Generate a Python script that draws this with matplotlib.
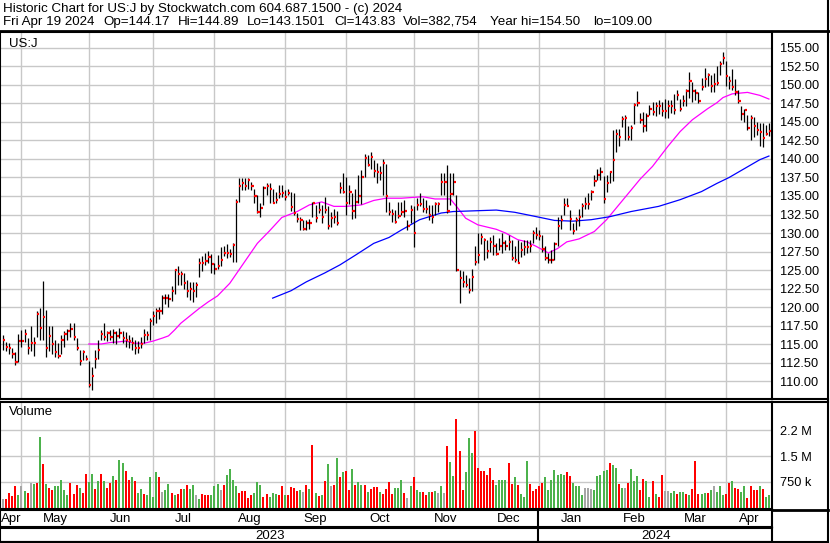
import numpy as np
import pandas as pd
import matplotlib
matplotlib.use("Agg")
import matplotlib.pyplot as plt
from matplotlib.lines import Line2D

plt.rcParams['font.family'] = ['Liberation Sans', 'DejaVu Sans']

# --- trading calendar ---
FIRST_DAY = "2023-04-21"
LAST_DAY = "2024-04-19"
HOLIDAYS = ["2023-05-29", "2023-06-19", "2023-07-04", "2023-09-04", "2023-11-23",
            "2023-12-25", "2024-01-01", "2024-01-15", "2024-02-19", "2024-03-29"]

HEADER_1 = "Historic Chart for US:J by Stockwatch.com 604.687.1500 - (c) 2024"
HEADER_2 = ["Fri Apr 19 2024", "Op=144.17", "Hi=144.89", "Lo=143.1501", "Cl=143.83",
            "Vol=382,754", "Year hi=154.50", "lo=109.00"]

# --- daily bars ---
close = [
    115.5, 114.6, 114.4, 113.7, 112.6, 115.4, 115.4, 116.3, 114.4, 115.1,
    115.1, 119.1, 117.2, 118.6, 114.5, 116.1, 115.0, 113.9, 113.4, 115.6,
    116.3, 116.8, 117.0, 115.9, 114.5, 112.7, 113.9, 113.0, 109.5, 110.7,
    113.0, 114.2, 116.3, 116.0, 116.5, 116.0, 116.5, 116.1, 116.5, 115.8,
    115.5, 115.4, 115.1, 114.4, 114.4, 115.0, 116.2, 116.2, 118.1, 118.8,
    119.5, 119.5, 121.2, 121.2, 121.1, 122.2, 125.0, 124.4, 124.5, 123.2,
    122.2, 122.5, 122.2, 123.0,
    125.9, 125.9, 126.2, 126.8, 125.8, 125.2, 125.5, 126.4, 127.3, 127.3,
    127.2, 128.4, 134.2, 136.3, 136.7, 136.4, 137.1, 136.3, 135.0, 132.9,
    133.4, 136.1, 136.3, 136.0, 134.1, 134.5, 135.3, 135.4, 134.8, 135.4,
    133.5, 132.7, 131.9, 131.8, 130.6, 131.3, 131.3, 134.0, 132.0, 133.1,
    132.2, 133.1, 131.0, 132.0, 132.2, 131.3, 136.1, 135.6, 134.1, 135.5,
    133.0, 134.2, 135.0, 137.5, 140.1, 139.2, 140.3, 138.4, 138.3, 138.1,
    139.4,
    135.0, 132.8, 132.6, 131.5, 132.3, 132.8, 133.0, 131.0, 133.1, 130.0,
    133.8, 133.9, 133.3, 133.2, 132.4, 132.1, 133.9, 133.9, 136.9, 136.9,
    133.0, 135.3, 136.9, 125.0, 123.9, 123.4, 123.0, 122.3, 124.0, 126.1,
    127.0, 129.4, 129.1, 127.6, 128.8, 128.2, 127.2, 128.2, 128.6, 128.2,
    128.8, 126.6, 126.4, 126.0, 127.7, 128.1, 128.1, 128.2, 130.0, 129.7,
    129.6, 127.9, 126.6, 126.4, 126.4, 128.5, 131.0, 131.7, 133.8, 133.7,
    131.9, 130.3, 131.8, 132.2, 133.6, 133.9, 133.9, 135.6, 137.0, 137.8,
    138.2, 134.6, 136.8, 138.2, 139.8, 143.4, 143.0, 145.4, 145.5, 143.0,
    144.2, 147.3, 147.5, 145.3, 144.5, 145.8, 146.8, 146.4, 147.2, 147.2,
    146.5, 146.5, 147.1, 147.1, 146.6, 148.6, 146.8, 147.8, 149.2, 150.6,
    149.2, 148.9, 147.9, 149.7, 150.8, 151.4, 149.9, 150.1, 150.3, 152.8,
    153.7, 151.2, 150.6, 149.7, 149.1, 147.9, 146.1, 146.6, 144.2, 145.5,
    144.5, 143.9, 143.6, 142.9, 143.4, 143.83,
]
high = [
    116.2, 115.3, 115.1, 114.4, 113.9, 116.4, 116.9, 117.0, 115.8, 117.4,
    116.0, 119.5, 119.8, 123.5, 119.6, 117.4, 117.4, 115.5, 115.1, 116.2,
    116.7, 117.0, 117.8, 117.8, 115.8, 114.2, 114.2, 113.5, 112.7, 111.9,
    114.2, 115.5, 116.9, 117.8, 116.8, 116.9, 117.0, 116.8, 117.2, 116.8,
    116.6, 116.2, 116.0, 115.6, 115.4, 116.0, 117.0, 116.8, 118.5, 119.4,
    119.8, 120.0, 121.6, 121.8, 121.8, 122.8, 125.2, 125.6, 124.8, 124.6,
    123.6, 123.4, 123.4, 123.4,
    126.6, 126.9, 127.3, 127.6, 127.2, 125.9, 127.0, 128.1, 128.2, 128.5,
    127.9, 128.7, 134.6, 137.4, 137.4, 137.4, 137.4, 136.9, 136.0, 135.1,
    134.0, 136.3, 136.7, 136.7, 136.0, 135.6, 136.5, 136.5, 135.8, 136.0,
    135.6, 135.4, 132.7, 132.2, 131.8, 131.8, 131.9, 134.2, 133.8, 134.2,
    133.8, 134.9, 133.6, 132.9, 133.2, 133.0, 136.9, 138.1, 137.6, 136.5,
    135.4, 136.0, 137.8, 138.5, 140.7, 140.5, 141.0, 139.9, 139.4, 139.0,
    140.0,
    139.3, 134.2, 133.3, 133.1, 134.2, 134.2, 134.5, 131.8, 133.8, 133.6,
    134.7, 135.4, 134.7, 134.5, 133.8, 133.8, 134.2, 134.2, 138.1, 138.1,
    139.2, 138.1, 138.1, 135.1, 125.0, 124.8, 124.3, 123.9, 125.2, 128.2,
    130.0, 130.0, 129.3, 129.1, 129.5, 129.7, 128.6, 129.3, 130.0, 129.1,
    129.7, 129.1, 128.2, 129.1, 128.8, 129.1, 129.1, 129.1, 130.4, 130.8,
    130.4, 129.7, 128.2, 127.3, 127.7, 128.8, 132.2, 132.4, 134.7, 134.7,
    133.1, 131.4, 132.2, 133.2, 134.0, 134.9, 135.4, 135.8, 137.8, 138.6,
    138.9, 137.7, 137.8, 138.4, 143.9, 144.0, 144.0, 145.8, 145.9, 144.5,
    144.6, 147.6, 149.2, 146.2, 146.3, 146.2, 147.3, 147.7, 147.7, 148.0,
    147.7, 148.1, 148.0, 148.0, 148.8, 149.3, 148.1, 148.6, 149.4, 151.8,
    150.4, 149.4, 149.1, 150.9, 152.3, 151.6, 151.4, 151.6, 152.5, 153.2,
    154.5, 153.2, 151.2, 152.1, 150.8, 149.3, 147.1, 146.8, 145.9, 145.9,
    145.7, 145.0, 144.8, 144.8, 144.6, 144.89,
]
low = [
    114.2, 114.0, 113.7, 113.1, 112.2, 112.6, 114.6, 115.3, 113.7, 114.0,
    113.4, 116.0, 115.5, 115.5, 113.2, 114.0, 113.7, 113.3, 113.1, 113.7,
    114.6, 115.5, 116.0, 115.5, 114.2, 112.2, 112.8, 112.8, 109.2, 108.8,
    111.8, 113.0, 115.5, 115.5, 115.4, 115.5, 115.2, 115.0, 115.8, 115.2,
    114.6, 114.5, 114.2, 113.6, 113.8, 114.4, 115.2, 115.6, 115.6, 117.6,
    117.8, 118.4, 119.0, 120.4, 120.0, 120.8, 121.8, 123.0, 123.0, 122.4,
    121.4, 121.0, 120.7, 121.4,
    124.1, 124.8, 125.7, 126.0, 124.6, 124.4, 125.1, 125.5, 126.9, 126.6,
    126.8, 126.1, 126.1, 134.2, 135.8, 135.8, 136.0, 135.8, 134.0, 132.7,
    132.1, 133.8, 135.1, 134.0, 134.0, 134.0, 134.7, 134.9, 134.5, 135.1,
    133.0, 132.4, 131.5, 130.4, 130.4, 130.4, 130.5, 132.2, 131.5, 132.7,
    131.3, 132.7, 130.5, 130.8, 131.4, 131.1, 135.4, 135.4, 132.4, 133.9,
    131.9, 132.0, 134.0, 133.9, 137.6, 139.0, 138.7, 137.6, 136.7, 137.2,
    135.2,
    132.9, 132.4, 131.5, 131.3, 132.0, 132.4, 132.2, 130.4, 131.3, 128.1,
    133.1, 133.6, 132.9, 132.7, 131.8, 131.4, 132.4, 132.9, 135.1, 135.1,
    132.7, 133.8, 135.1, 124.8, 120.6, 122.7, 122.7, 121.9, 122.1, 125.7,
    125.9, 128.5, 126.4, 126.6, 127.5, 127.0, 127.0, 127.7, 127.3, 127.7,
    127.7, 126.3, 126.1, 125.9, 126.8, 127.0, 127.3, 127.5, 128.6, 129.2,
    129.1, 127.5, 126.3, 126.0, 125.9, 126.4, 128.2, 130.5, 132.4, 133.6,
    130.4, 129.9, 130.4, 130.9, 132.2, 133.3, 133.3, 134.5, 136.3, 137.2,
    137.2, 134.0, 135.6, 136.7, 137.0, 140.9, 141.8, 144.3, 142.6, 142.6,
    142.6, 144.7, 147.1, 144.8, 143.6, 143.8, 145.9, 145.9, 145.8, 146.1,
    145.8, 145.5, 145.6, 146.2, 146.1, 148.0, 146.5, 147.1, 147.2, 148.2,
    147.7, 148.0, 147.6, 149.3, 149.7, 149.8, 149.1, 149.0, 150.0, 151.3,
    152.9, 149.8, 149.4, 149.3, 148.6, 147.5, 145.3, 145.0, 143.9, 142.6,
    143.0, 143.2, 141.7, 141.6, 143.2, 143.15,
]

# --- moving averages, sampled off the chart (trading-day number, price) ---
ma50_day = [28, 32, 35, 38, 40, 43, 46, 49, 52, 54, 56, 58, 61, 64, 67, 70, 74, 78,
            83, 87, 91, 96, 100, 104, 108, 112, 117, 121, 125, 130, 137, 141, 146,
            148, 151, 155, 161, 164, 168, 171, 174, 178, 181, 184, 188, 193, 197,
            201, 206, 208, 212, 217, 221, 225, 230, 233, 235, 238, 243, 247, 250]
ma50_val = [115.0, 115.0, 115.2, 115.3, 115.4, 115.1, 115.1, 115.4, 115.8, 116.1,
            116.9, 117.8, 118.8, 119.8, 120.7, 121.5, 123.2, 125.6, 128.6, 130.3,
            132.1, 132.9, 133.8, 134.2, 133.6, 133.6, 133.8, 134.4, 134.7, 134.7,
            134.9, 134.6, 134.6, 133.6, 132.0, 131.1, 130.5, 130.0, 129.1, 128.8,
            128.2, 127.3, 127.9, 128.8, 129.2, 130.2, 131.8, 133.8, 136.3, 137.3,
            139.0, 141.7, 143.7, 145.3, 146.8, 147.6, 148.3, 148.8, 149.0, 148.6,
            148.1]
ma200_day = [88, 94, 99, 105, 110, 115, 121, 126, 130, 136, 143, 147, 154, 161, 167,
             173, 180, 186, 192, 198, 205, 214, 221, 228, 233, 237, 242, 247, 250]
ma200_val = [121.2, 122.2, 123.4, 124.6, 125.7, 127.0, 128.6, 129.4, 130.4, 131.8,
             132.7, 132.9, 133.0, 133.1, 132.8, 132.3, 131.7, 131.6, 131.8, 132.2,
             132.9, 133.6, 134.5, 135.6, 136.7, 137.5, 138.7, 139.9, 140.4]

# --- volume in millions, g = up day, r = down day, n = unchanged ---
vol_m = [
    0.27, 0.27, 0.44, 0.34, 0.62, 0.38, 0.62, 0.50, 0.44, 0.73,
    0.70, 0.73, 2.06, 1.28, 0.70, 0.59, 0.53, 0.64, 0.64, 0.82,
    0.53, 0.36, 0.73, 0.41, 0.67, 0.59, 0.44, 0.99, 0.76, 0.99,
    0.56, 0.79, 0.99, 0.79, 0.59, 0.73, 0.93, 0.82, 1.39, 1.31,
    1.08, 0.82, 0.88, 0.79, 0.44, 0.56, 0.41, 0.38, 0.90, 0.33,
    1.05, 0.88, 0.47, 0.53, 0.70, 0.44, 0.36, 0.41, 0.56, 0.56,
    0.67, 0.56, 0.67, 0.36, 0.27, 0.41, 0.38, 0.38, 0.36, 0.64,
    0.70, 0.53, 0.67, 0.96, 1.13, 0.82, 0.62, 0.44, 0.50, 0.50,
    0.30, 0.36, 0.44, 0.76, 0.67, 0.33, 0.41,
    0.31, 0.44, 0.41, 0.37, 0.62, 0.38, 0.37, 0.60, 0.57, 0.48,
    0.51, 0.47, 0.65, 0.54, 1.81, 0.42, 0.34, 0.37, 0.77, 1.26,
    0.63, 0.65, 1.43, 0.88, 1.03, 1.06, 0.51, 1.12, 0.65, 0.74,
    0.65, 0.65, 0.45, 0.54, 0.60, 0.60, 0.45, 0.39, 0.54, 0.74,
    0.39, 0.57, 0.57,
    0.82, 0.44, 0.30, 0.64, 0.90, 0.53, 0.47, 0.47, 0.38, 0.47,
    0.47, 0.50, 0.44, 0.62, 0.44, 1.80, 1.34, 0.93, 2.58, 1.65,
    0.53, 1.05, 2.03, 1.60, 2.23, 1.16, 1.08, 1.08, 0.96, 1.16,
    0.82, 0.67, 0.82, 0.82, 0.82, 1.31, 0.70, 0.88, 0.67, 0.41,
    0.33, 1.37, 0.70, 0.50, 0.56, 0.64, 0.73, 0.88, 0.53, 0.82,
    1.11, 0.96, 0.99, 0.96, 1.05, 0.93, 0.73, 0.64, 0.62, 0.38,
    0.59, 0.59, 0.56, 0.53, 0.93, 0.96, 1.08, 1.11, 1.31, 1.25,
    1.16, 0.70, 0.59, 0.59, 0.73, 1.13, 0.79, 0.93, 0.53, 0.85,
    0.79, 0.33, 0.79, 0.41, 0.33, 0.96, 0.50, 0.50, 0.44, 0.48,
    0.41, 0.47, 0.46, 0.41, 0.38, 0.56, 1.37, 0.41, 0.41, 0.44,
    0.44, 0.53, 0.62, 0.47, 0.62, 0.38, 0.41, 0.73, 0.79, 0.59,
    0.56, 0.47, 0.62, 0.30, 0.62, 0.53, 0.53, 0.62, 0.56, 0.33,
    0.38,
]
vol_dir = list(
    "nrrrrgngrn" "grgrgrrggg" "ggrrrgrrgg" "rgrgrrgrgg" "rrgrggrggg"
    "grnggrgrrg" "rggngrrrgg" "gnrggggrrr" "rrgggrr"
    "gggrrgrrrr" "gnrgrgrgrg" "nrgrgrrgrg" "grgrrrgrrr" "rgg"
    "grngrggrrg" "rgngnrggrr" "rgggrrrrrr" "rggggrrgrg" "ggrrrrrggg"
    "ggggrrgggg" "nnngggggrg" "grgnrgggrr" "ggrgrrnngg" "rggrgrrrgg"
    "rgngggrrgr" "rggrrrrgrg" "g"
)

PRICE_TICKS = np.arange(110, 157.5, 2.5)
VOL_TICKS = [0.75, 1.5, 2.25]
VOL_LABELS = ["750 k", "1.5 M", "2.2 M"]

GRID = '#c8c8c8'
VOL_COLORS = {'g': '#4cb24c', 'r': '#ff0000', 'n': '#a6a6a6'}

days = pd.bdate_range(FIRST_DAY, LAST_DAY)
days = days[~days.isin(pd.to_datetime(HOLIDAYS))]
n = len(days)
assert n == len(close) == len(high) == len(low) == len(vol_m) == len(vol_dir), \
    (n, len(close), len(high), len(low), len(vol_m), len(vol_dir))
x = np.arange(n)
month_start = [i for i in range(1, n) if days[i].month != days[i - 1].month]
year_start = [i for i in month_start if days[i].month == 1][0]

W, H = 830, 543
fig = plt.figure(figsize=(W / 100, H / 100), dpi=100)
fig.patch.set_facecolor('white')


def px_rect(x0, y0, x1, y1):
    return [x0 / W, 1 - y1 / H, (x1 - x0) / W, (y1 - y0) / H]


def frame(ax):
    for s in ax.spines.values():
        s.set_color('black')
        s.set_linewidth(1.5)


XLIM = (-1, n)

# --- price panel ---
ax = fig.add_axes(px_rect(0, 32, 772, 399))
ax.set_xlim(*XLIM)
ax.set_ylim(107.57, 157.16)
ax.set_yticks(PRICE_TICKS)
ax.set_yticklabels([f"{v:.2f}" for v in PRICE_TICKS])
ax.set_xticks(month_start)
ax.grid(True, color=GRID, lw=1.0)
ax.set_axisbelow(True)
ax.yaxis.tick_right()
ax.tick_params(axis='y', length=0, pad=6, labelsize=9.2)
ax.tick_params(axis='x', length=0, labelbottom=False)
frame(ax)

ax.vlines(x, low, high, color='black', lw=0.9, zorder=3)
ax.hlines(close, x + 0.05, x + 0.75, color='red', lw=1.6, zorder=4)
ax.plot(ma50_day, ma50_val, color='#ff00ff', lw=0.9, zorder=2)
ax.plot(ma200_day, ma200_val, color='#0000ff', lw=0.9, zorder=2)
ax.text(0.012, 0.985, "US:J", transform=ax.transAxes, ha='left', va='top', fontsize=9.5)

# --- volume panel ---
vax = fig.add_axes(px_rect(0, 402, 772, 509))
vax.set_xlim(*XLIM)
vax.set_ylim(-0.03, 3.06)
vax.bar(x, vol_m, width=0.65, color=[VOL_COLORS[d] for d in vol_dir], zorder=3)
vax.set_yticks(VOL_TICKS)
vax.set_yticklabels(VOL_LABELS)
vax.set_xticks(month_start)
vax.grid(True, color=GRID, lw=1.0)
vax.set_axisbelow(True)
vax.yaxis.tick_right()
vax.tick_params(axis='y', length=0, pad=6, labelsize=9.2)
vax.tick_params(axis='x', length=0, labelbottom=False)
vax.text(0.011, 0.96, "Volume", transform=vax.transAxes, ha='left', va='top', fontsize=9.5)
frame(vax)

# --- month / year bands ---
mb = fig.add_axes(px_rect(0, 510, 772, 527))
yb = fig.add_axes(px_rect(0, 528, 772, 542))
for band in (mb, yb):
    band.set_xlim(*XLIM)
    band.set_ylim(0, 1)
    band.set_xticks([])
    band.set_yticks([])
    band.axvline(year_start - 0.5, color='black', lw=1.5)
    frame(band)

edges = [XLIM[0]] + month_start + [XLIM[1]]
starts = [0] + month_start
for k, s in enumerate(starts):
    mb.text((edges[k] + edges[k + 1]) / 2, 0.45, days[s].strftime('%b'),
            ha='center', va='center', fontsize=9.5)
yb.text((XLIM[0] + year_start) / 2, 0.45, str(days[0].year), ha='center', va='center', fontsize=9.5)
yb.text((year_start + XLIM[1]) / 2, 0.45, str(days[-1].year), ha='center', va='center', fontsize=9.5)

# --- header and outer frame ---
fig.text(3 / W, 1 - 12 / H, HEADER_1, ha='left', va='baseline', fontsize=9.6)
for label, px in zip(HEADER_2, [3, 103, 178, 247, 334, 403, 490, 593]):
    fig.text(px / W, 1 - 25 / H, label, ha='left', va='baseline', fontsize=9.6)


def fig_line(x0, y0, x1, y1, lw=1.5):
    fig.add_artist(Line2D([x0 / W, x1 / W], [1 - y0 / H, 1 - y1 / H],
                          color='black', lw=lw, transform=fig.transFigure))


fig_line(0, 30.5, W, 30.5, lw=2)
fig_line(827.5, 0, 827.5, 542)
fig_line(0, 541.5, 828, 541.5)
fig_line(772, 399, 828, 399)
fig_line(772, 402, 828, 402)
fig_line(772, 510, 828, 510, lw=2)

fig.savefig("out.png", dpi=100)
